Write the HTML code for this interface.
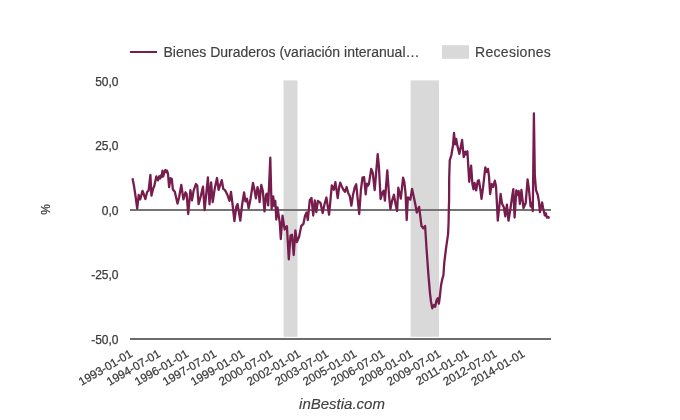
<!DOCTYPE html>
<html><head><meta charset="utf-8"><style>
html,body{margin:0;padding:0;background:#fff;width:680px;height:420px;overflow:hidden}
svg{display:block;will-change:transform}
text{font-family:"Liberation Sans",Arial,sans-serif}
.ax{fill:#3a3a3a;stroke:#3a3a3a;stroke-width:0.25px} text.ax{font-size:12px} text.ax[font-size]{font-size:11.7px}
.lg{font-size:14px;fill:#404040;stroke:#404040;stroke-width:0.15px}
.tt{font-size:15px;fill:#404040;stroke:#404040;stroke-width:0.15px;font-style:italic}
</style></head><body>
<svg width="680" height="420" viewBox="0 0 680 420">
<rect x="0" y="0" width="680" height="420" fill="#ffffff"/>
<rect x="283.5" y="80.4" width="14" height="256.4" fill="#d9d9d9"/>
<rect x="410.6" y="80.4" width="28.4" height="256.4" fill="#d9d9d9"/>
<rect x="130" y="209" width="421" height="2" fill="#747474"/>
<rect x="130" y="338" width="421" height="2" fill="#6c6c6c"/>
<text x="118.5" y="85.5" text-anchor="end" class="ax">50,0</text>
<text x="118.5" y="150.0" text-anchor="end" class="ax">25,0</text>
<text x="118.5" y="214.5" text-anchor="end" class="ax">0,0</text>
<text x="118.5" y="279.0" text-anchor="end" class="ax">-25,0</text>
<text x="118.5" y="343.5" text-anchor="end" class="ax">-50,0</text>
<text x="133.3" y="356" text-anchor="end" transform="rotate(-30 133.3 356)" class="ax" font-size="11.7">1993-01-01</text>
<text x="161.3" y="356" text-anchor="end" transform="rotate(-30 161.3 356)" class="ax" font-size="11.7">1994-07-01</text>
<text x="189.4" y="356" text-anchor="end" transform="rotate(-30 189.4 356)" class="ax" font-size="11.7">1996-01-01</text>
<text x="217.4" y="356" text-anchor="end" transform="rotate(-30 217.4 356)" class="ax" font-size="11.7">1997-07-01</text>
<text x="245.4" y="356" text-anchor="end" transform="rotate(-30 245.4 356)" class="ax" font-size="11.7">1999-01-01</text>
<text x="273.5" y="356" text-anchor="end" transform="rotate(-30 273.5 356)" class="ax" font-size="11.7">2000-07-01</text>
<text x="301.5" y="356" text-anchor="end" transform="rotate(-30 301.5 356)" class="ax" font-size="11.7">2002-01-01</text>
<text x="329.5" y="356" text-anchor="end" transform="rotate(-30 329.5 356)" class="ax" font-size="11.7">2003-07-01</text>
<text x="357.5" y="356" text-anchor="end" transform="rotate(-30 357.5 356)" class="ax" font-size="11.7">2005-01-01</text>
<text x="385.6" y="356" text-anchor="end" transform="rotate(-30 385.6 356)" class="ax" font-size="11.7">2006-07-01</text>
<text x="413.6" y="356" text-anchor="end" transform="rotate(-30 413.6 356)" class="ax" font-size="11.7">2008-01-01</text>
<text x="441.6" y="356" text-anchor="end" transform="rotate(-30 441.6 356)" class="ax" font-size="11.7">2009-07-01</text>
<text x="469.7" y="356" text-anchor="end" transform="rotate(-30 469.7 356)" class="ax" font-size="11.7">2011-01-01</text>
<text x="497.7" y="356" text-anchor="end" transform="rotate(-30 497.7 356)" class="ax" font-size="11.7">2012-07-01</text>
<text x="525.7" y="356" text-anchor="end" transform="rotate(-30 525.7 356)" class="ax" font-size="11.7">2014-01-01</text>
<polyline points="132.5,178.3 134.0,186 135.5,196 137.2,208.5 138.7,195 140.2,199.5 142.5,190.8 143.3,193 145.4,199.1 147.1,192 148.6,190.6 150.4,174.9 151.4,195.6 153.2,188.4 154.3,186 156.4,176.3 157.9,180.4 159.3,176.3 160.2,178.5 160.9,175.4 161.6,177 162.5,170.6 163.2,176.5 164.3,172.7 165.4,170 166.4,172.2 167,170.6 168,173.8 169.1,187.2 170.5,178.2 171.8,179 172.9,189.5 174.8,191.8 177.5,203.6 179.1,197.2 181.3,184.8 183.4,199.3 185.5,192.3 186.6,193.9 188.2,214 190.4,190.2 192,200.4 193.6,190.7 195.9,184 197.2,185.5 198.6,204.2 200.9,195.7 203,186.6 204.6,210.2 207.9,177.5 209.5,204.3 211.1,182.3 212.7,202.2 214.8,188.2 217,178 218.6,189.8 221.8,180.2 223.3,189 224.4,189.5 225.5,191 227.5,195 229.5,200.8 231,192 232.5,204 234.4,221 236.3,206.8 237.6,204.1 240.3,220.7 242.1,204.7 244.1,192.3 245.4,201.4 247,198.8 248.6,208.4 250.5,199 253,183 254.4,189.5 255.9,198.4 257.5,187.1 258.6,191.4 259.6,202.2 261.3,185 262.9,191.4 264.5,211.3 266.1,194.7 267.1,193.6 268.2,205.4 270.3,157.7 271.6,209 273.2,196.5 274.3,206 275.3,201 276.3,219.5 277.5,207.5 279.8,222.9 280.8,239 282.5,215.6 284.7,229.5 286.9,226.1 288.8,259.3 290.5,235.7 292,234.6 293.7,255 295.4,230.4 296.9,242.1 299.1,236.8 301.2,226.1 303.4,223.9 305,216 306.6,212.5 307.8,220 309.8,200 311.5,198 313.2,215.5 314.8,200.5 316.3,212 317.9,201 320.5,203 322.7,213 324.3,205 326.4,197.5 328,208.2 329.1,214.7 331.8,185.5 333.8,189.7 335.4,182.1 337.7,198.2 339.1,187.5 340.2,182.7 341.8,186.4 343.4,189.7 345,191.8 346.6,187 348.2,192.9 349.8,196.1 351.4,205.7 353,195 354.7,187.5 356.2,184.3 359.2,214 360.9,190 362.5,177.7 364.1,177.1 365.7,194.3 366.8,183.6 367.9,185.7 368.9,184.1 371.2,168.8 372.8,173 374.7,190 377.7,154.1 378.9,166.4 380.6,199 382.5,192.4 383.7,190.6 384.9,200.7 387.3,170.3 389.1,196 390.4,209 392.1,200.7 393.9,194.8 395.6,204.3 397.1,211 398.3,187.7 400.8,198.6 403.1,177.7 404.3,181.9 405.5,192.6 406.7,220 407.9,197.4 410.3,199.8 412.1,189 413.9,197.4 415.6,205.7 416.8,212.5 419.1,206.9 421.5,226 423.3,228.3 425.1,226 426.5,248 428.3,273.3 430,293.3 431,301.7 432.3,308.3 433.9,305 435.2,306.7 436.4,300.8 437.7,298.3 438.9,303.7 439.8,297 441,285.5 442.4,278.6 443.4,275.5 444.3,262.4 446.2,247.1 448.1,233.8 448.6,222 448.8,210.1 449.1,200 449.2,178 449.75,160.4 451.4,155 453,145.4 454,133 455.1,144.3 456.2,138.9 457.3,145.4 459.4,153.9 462.1,140 463.7,157.2 465.3,151.8 466.4,154.5 467.4,151.3 469.2,181.8 471.1,165.7 472.4,183.9 473.5,189.3 474.6,182.9 476.2,190.4 477.8,180.7 478.9,180.2 480.5,190.4 481.5,198.9 483.1,187.2 485.3,167.3 486.5,172 488,168.9 489,176.4 490.1,194 491.7,184 493.2,187 494.8,180.7 496,186 497.8,220.7 500.6,194 502,203.6 503.9,207.5 505.3,216.4 506.9,204.7 508.5,220.7 510.1,211.1 512.2,196.1 513.3,189.1 514.6,217.5 516.3,190.3 517.6,195 518.7,191 519.9,204 521.4,190 523.5,208 525.7,203 527.6,179.3 528.9,189 530.6,206.5 531.6,203 532.8,211 533.9,113.4 534.8,175 536,190 537.8,195 538.9,201.4 539.9,212.2 542.1,202.5 543.1,207.9 544.8,215.4 545.8,213.2 546.9,217.5 548.5,217 549,218.6" fill="none" stroke="#771d4e" stroke-width="2.3" stroke-linejoin="round"/>
<rect x="130" y="51" width="27" height="2" fill="#771d4e"/>
<text x="163.5" y="56.5" class="lg">Bienes Duraderos (variación interanual…</text>
<rect x="442" y="45.2" width="27" height="13.6" fill="#d9d9d9"/>
<text x="475" y="56.5" class="lg" letter-spacing="0.3">Recesiones</text>
<text x="50" y="209.5" text-anchor="middle" transform="rotate(-90 50 209.5)" class="ax">%</text>
<text x="342" y="408.5" text-anchor="middle" class="tt">inBestia.com</text>
</svg>
</body></html>
